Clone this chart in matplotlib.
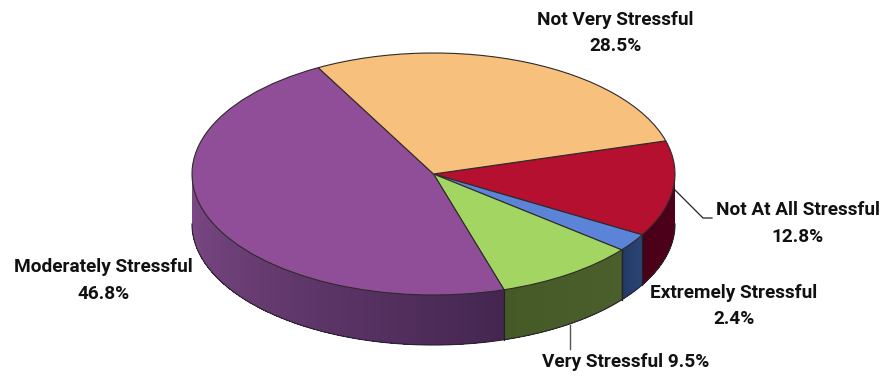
import numpy as np
import matplotlib
matplotlib.use("Agg")
import matplotlib.pyplot as plt
from matplotlib.colors import to_rgb

# order is clockwise starting at the orange/red boundary
names = ["Not At All Stressful", "Extremely Stressful", "Very Stressful", "Moderately Stressful", "Not Very Stressful"]
values = [12.8, 2.4, 9.5, 46.8, 28.5]
top_colors = ["#B5102F", "#5B84D8", "#A2D561", "#904E98", "#F7C07C"]
# wall colours, left end and right end of each visible slice
wall_start = ["#50001C", "#2A4575", "#4A5F2B", "#442650", "#000000"]
wall_end = ["#4A0018", "#223A66", "#465A28", "#7F4A88", "#000000"]

plt.rcParams['font.family'] = ['Roboto', 'Liberation Sans', 'DejaVu Sans']

W, H = 881, 376
START = 15.9
CX, CY_PX, R, RY_PX, DEPTH_PX = 433.5, 174, 241.5, 121, 50


def py(y):
    # pixel row -> data y (the y axis is stretched so the circle looks flat)
    return (H - y) * R / RY_PX


fig = plt.figure(figsize=(W / 100, H / 100), dpi=100, facecolor="white")
ax = fig.add_axes([0, 0, 1, 1])

# side wall
depth = DEPTH_PX * R / RY_PX
cy = py(CY_PX)
bounds = START - np.cumsum([0] + values) * 3.6
for i in range(len(values)):
    a0, a1 = bounds[i], bounds[i + 1]
    # only the front half of the disc shows a wall
    lo, hi = max(a1, -180), min(a0, 0)
    if lo >= hi:
        continue
    edges = np.linspace(hi, lo, max(int((hi - lo) * 1.5), 2) + 1)
    c0, c1 = np.array(to_rgb(wall_start[i])), np.array(to_rgb(wall_end[i]))
    for j in range(len(edges) - 1):
        t = j / max(len(edges) - 2, 1)
        # each strip runs to the slice end, the next one paints over it, so no seams
        th = np.radians(np.linspace(edges[j], lo, 60))
        xs = CX + R * np.cos(th)
        ys = cy + R * np.sin(th)
        col = c0 + (c1 - c0) * t
        ax.fill(np.r_[xs, xs[::-1]], np.r_[ys, ys[::-1] - depth], facecolor=col, edgecolor="none", zorder=1)
    # outline
    th = np.radians(np.linspace(hi, lo, 120))
    ax.plot(CX + R * np.cos(th), cy + R * np.sin(th) - depth, color="#2B2230", lw=0.8, zorder=2)
    for a in (hi, lo):
        if a not in (0, -180):
            x = CX + R * np.cos(np.radians(a))
            y = cy + R * np.sin(np.radians(a))
            ax.plot([x, x], [y, y - depth], color="#222222", lw=0.8, zorder=2)

ax.pie(values, colors=top_colors, startangle=START, counterclock=False, center=(CX, cy), radius=R,
       wedgeprops={"edgecolor": "#2E2A2A", "linewidth": 0.8, "zorder": 3})
ax.set_aspect("auto")
ax.set_xlim(0, W)
ax.set_ylim(0, H * R / RY_PX)
ax.set_axis_off()

# leader lines
ax.plot([675, 703, 712], [py(190), py(218), py(218)], color="#222222", lw=0.9, zorder=4)
ax.plot([570, 570], [py(325), py(349)], color="#555555", lw=1.0, zorder=4)

font = dict(fontsize=13.7, fontweight="bold", color="#111111", ha="center", va="center", linespacing=1.62)
ax.text(615.5, py(33), f"{names[4]}\n{values[4]}%", **font)
ax.text(797.5, py(223.5), f"{names[0]}\n{values[0]}%", **font)
ax.text(734, py(306), f"{names[1]}\n{values[1]}%", **font)
ax.text(626, py(362), f"{names[2]} {values[2]}%", **font)
ax.text(103.5, py(280.5), f"{names[3]}\n{values[3]}%", **font)

fig.savefig("out.png", dpi=100)
